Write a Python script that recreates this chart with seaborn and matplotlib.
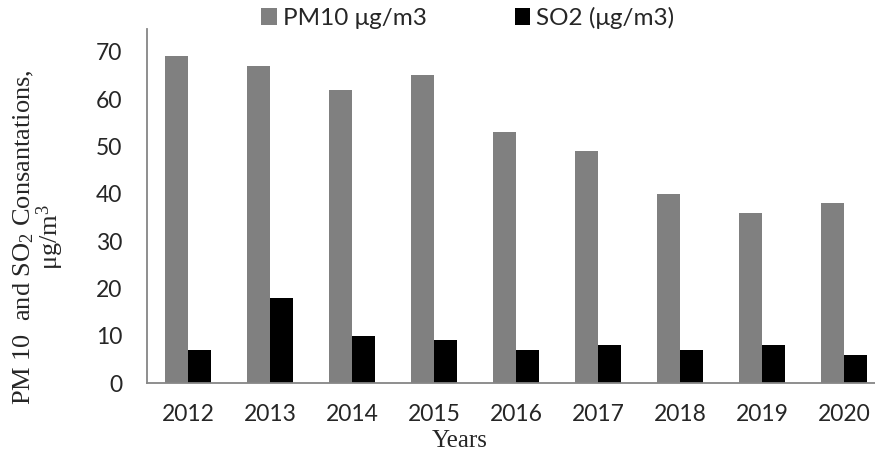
import numpy as np
import pandas as pd
import matplotlib
matplotlib.use('Agg')
import matplotlib.pyplot as plt
import seaborn as sns

years = ['2012', '2013', '2014', '2015', '2016', '2017', '2018', '2019', '2020']
pm10 = [69, 67, 62, 65, 53, 49, 40, 36, 38]
so2 = [7, 18, 10, 9, 7, 8, 7, 8, 6]
series_names = ['PM10 μg/m3', 'SO2 (μg/m3)']

df = pd.DataFrame({
    'year': years * 2,
    'value': pm10 + so2,
    'series': [series_names[0]] * len(years) + [series_names[1]] * len(years),
})

sns.set_style('white')
plt.rcParams['font.family'] = ['Lato', 'DejaVu Sans']
plt.rcParams['mathtext.fontset'] = 'custom'
plt.rcParams['mathtext.rm'] = 'Liberation Serif'
plt.rcParams['mathtext.it'] = 'Liberation Serif:italic'

axis_col = '#868686'

fig = plt.figure(figsize=(8.75, 4.55), dpi=100)
ax = fig.add_axes([147 / 875, 72 / 455, 738 / 875, 354 / 455])

sns.barplot(data=df, x='year', y='value', hue='series',
            palette=['#808080', '#000000'], saturation=1,
            width=0.56, gap=0, ax=ax, linewidth=0)

handles, labels = ax.get_legend_handles_labels()
ax.get_legend().remove()

ax.set_xlim(-0.5, 8.5)
ax.set_ylim(0, 74.8)
ax.set_yticks(range(0, 71, 10))
ax.set_xticks(np.arange(-0.5, 9, 1), minor=True)
ax.tick_params(axis='x', which='major', length=0, pad=15, labelsize=16.5)
ax.tick_params(axis='x', which='minor', length=7, width=1.2, color=axis_col, direction='out')
ax.tick_params(axis='y', length=7, width=1.2, color=axis_col, direction='out', pad=11, labelsize=16.5)
ax.set_xlabel('')
ax.set_ylabel('')

sns.despine(ax=ax)
for s in ['left', 'bottom']:
    ax.spines[s].set_color(axis_col)
    ax.spines[s].set_linewidth(1.3)

fig.legend(handles, labels, loc='center', bbox_to_anchor=(468 / 875, 1 - 18 / 455),
           ncol=2, frameon=False, fontsize=17.5, handlelength=0.65, handleheight=0.65,
           handletextpad=0.25, columnspacing=3.6)

fig.text(460 / 875, 1 - 441 / 455, 'Years', family='Liberation Serif',
         fontsize=18, ha='center', va='center')
fig.text(39 / 875, 1 - 237 / 455, 'PM 10  and SO$_2$ Consantations,\nμg/m$^3$',
         family='Liberation Serif', fontsize=19, rotation=90,
         ha='center', va='center', multialignment='center', linespacing=0.95)

fig.savefig('out.png', dpi=100)
